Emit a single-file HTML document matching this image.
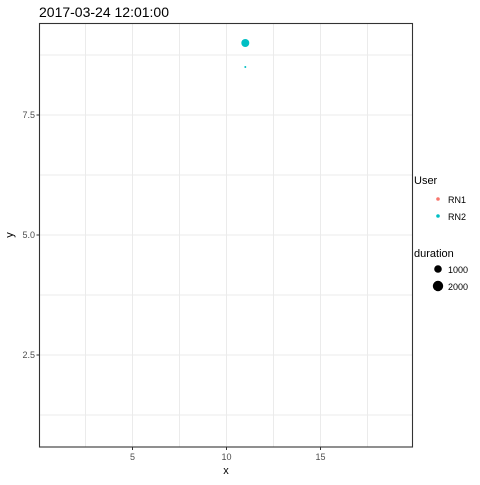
<!DOCTYPE html>
<html><head><meta charset="utf-8"><style>
body{margin:0;background:#fff;}
svg text{font-family:"Liberation Sans",sans-serif;}
</style></head><body>
<svg id="c" width="480" height="480" xmlns="http://www.w3.org/2000/svg">
<rect width="480" height="480" fill="#fff"/>
<text x="39" y="17" font-size="14" fill="#000">2017-03-24 12:01:00</text>
<g id="grid"></g>
<g id="marks"></g>
<rect x="39.5" y="23.5" width="373" height="423.5" fill="none" stroke="#333" stroke-width="1.1"/>
<g id="axes"></g>
<text x="226" y="474" font-size="11" text-anchor="middle">x</text>
<text x="0" y="0" font-size="11" text-anchor="middle" transform="translate(13,235) rotate(-90)">y</text>
<g>
<text x="414" y="184" font-size="11">User</text>
<circle cx="438" cy="199" r="1.8" fill="#F8766D"/>
<text x="448" y="203" font-size="9" fill="#000">RN1</text>
<circle cx="438" cy="216" r="1.8" fill="#00BFC4"/>
<text x="448" y="220" font-size="9" fill="#000">RN2</text>
<text x="414" y="257" font-size="11">duration</text>
<circle cx="438" cy="269" r="3.8" fill="#000"/>
<text x="448" y="273" font-size="9" fill="#000">1000</text>
<circle cx="438" cy="286" r="5.2" fill="#000"/>
<text x="448" y="290" font-size="9" fill="#000">2000</text>
</g>
</svg>
<script>
const xTicks=[5,10,15];
const xMinor=[2.5,7.5,12.5,17.5];
const yTicks=[2.5,5.0,7.5];
const yMinor=[1.25,3.75,6.25,8.75];
const yTickLabels=["2.5","5.0","7.5"];
const ptX=[11,11];
const ptY=[9.0,8.5];
const ptDuration=[2000,300];
const ptUser=["RN2","RN2"];
const NS="http://www.w3.org/2000/svg";
const L=39.5,R=412.5,T=23.5,B=447;
function sx(v){return 38.5+(v)*18.8;}
function sy(v){return 115-(v-7.5)*48;}
function rs(d){return 1+3*Math.sqrt(Math.max(d-300,0)/1700);}
const grid=document.getElementById('grid'),axes=document.getElementById('axes'),marks=document.getElementById('marks');
function line(g,x1,y1,x2,y2,c,w,name){const l=document.createElementNS(NS,'line');l.setAttribute('x1',x1);l.setAttribute('y1',y1);l.setAttribute('x2',x2);l.setAttribute('y2',y2);l.setAttribute('stroke',c);l.setAttribute('stroke-width',w);


g.appendChild(l);}
function txt(g,x,y,s,anchor,name){const t=document.createElementNS(NS,'text');t.setAttribute('x',x);t.setAttribute('y',y);t.setAttribute('font-size','9');t.setAttribute('fill','#4d4d4d');t.setAttribute('text-anchor',anchor);t.textContent=s;


g.appendChild(t);}
xMinor.forEach(v=>line(grid,sx(v),T,sx(v),B,'#ebebeb',1,'x-minor-gridline'));
yMinor.forEach(v=>line(grid,L,sy(v),R,sy(v),'#ebebeb',1,'y-minor-gridline'));
xTicks.forEach(v=>{line(grid,sx(v),T,sx(v),B,'#ebebeb',1,'x-major-gridline');line(axes,sx(v),B,sx(v),B+3,'#333',1,'x-tick');txt(axes,sx(v),460,String(v),'middle','x-tick-label');});
yTicks.forEach((v,i)=>{line(grid,L,sy(v),R,sy(v),'#ebebeb',1,'y-major-gridline');line(axes,L-3,sy(v),L,sy(v),'#333',1,'y-tick');txt(axes,35,sy(v)+3,yTickLabels[i],'end','y-tick-label');});
const col={RN1:'#F8766D',RN2:'#00BFC4'};
ptX.forEach((v,i)=>{const c=document.createElementNS(NS,'circle');c.setAttribute('cx',sx(v));c.setAttribute('cy',sy(ptY[i]));c.setAttribute('r',rs(ptDuration[i]));c.setAttribute('fill',col[ptUser[i]]);


marks.appendChild(c);});
</script>
</body></html>
